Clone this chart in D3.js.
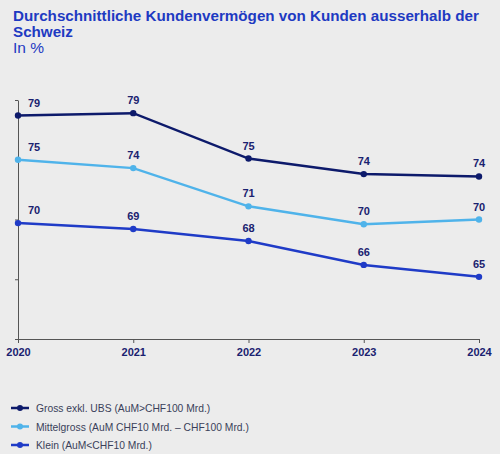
<!DOCTYPE html>
<html>
<head>
<meta charset="utf-8">
<script src="https://cdn.jsdelivr.net/npm/d3@7"></script>
<style>
  html, body { margin: 0; padding: 0; background: #ececec; }
  svg { display: block; font-family: Arial, "Liberation Sans", Helvetica, sans-serif; }
</style>
</head>
<body>
<svg id="chart" width="500" height="454"></svg>
<script>
const years = ["2020", "2021", "2022", "2023", "2024"];
const grossValues = [78.7, 78.9, 75.1, 73.8, 73.6];
const mittelValues = [75.0, 74.3, 71.1, 69.6, 70.0];
const kleinValues = [69.7, 69.2, 68.2, 66.2, 65.2];
const seriesNames = ["Gross exkl. UBS (AuM>CHF100 Mrd.)", "Mittelgross (AuM CHF10 Mrd. \u2013 CHF100 Mrd.)", "Klein (AuM<CHF10 Mrd.)"];
const seriesColors = ["#0d1a6b", "#4fb3ea", "#1f3bc7"];
const yTicks = [60, 65, 70, 75, 80];
const titleLines = ["Durchschnittliche Kundenvermögen von Kunden ausserhalb der", "Schweiz"];
const subtitle = "In %";

const series = [grossValues, mittelValues, kleinValues].map((vals, i) => ({
  name: seriesNames[i], color: seriesColors[i], values: vals
}));

const svg = d3.select("#chart");
const x = d3.scalePoint().domain(years).range([18, 479]);
const y = d3.scaleLinear().domain([60, 80]).range([339, 100]);

// Title
const title = svg.append("text").attr("fill", "#1e3ac2").attr("font-size", 15.2).attr("font-weight", "bold");
titleLines.forEach((t, i) => {
  title.append("tspan").attr("x", 13).attr("y", 21 + i * 16).text(t);
});
svg.append("text").attr("x", 13).attr("y", 53).attr("fill", "#1e3ac2").attr("font-size", 15.5).text(subtitle);

// Axes
const axisColor = "#555";
const xAxis = svg.append("g").attr("transform", "translate(0,339)")
  .call(d3.axisBottom(x).tickSize(4).tickSizeOuter(0));
xAxis.select(".domain").attr("stroke", axisColor);
xAxis.selectAll(".tick line").attr("stroke", axisColor);
xAxis.selectAll(".tick text").attr("fill", "#1a2270").attr("font-size", 11).attr("font-weight", "bold")
  .attr("font-family", "Arial, 'Liberation Sans', sans-serif").attr("dy", "0.9em");

const yAxis = svg.append("g").attr("transform", "translate(18,0)")
  .call(d3.axisLeft(y).tickValues(yTicks).tickSize(3).tickSizeOuter(0).tickFormat(""));
yAxis.select(".domain").attr("stroke", axisColor);
yAxis.selectAll(".tick line").attr("stroke", axisColor);

// Lines
const line = d3.line().x((d, i) => x(years[i])).y(d => y(d));
series.forEach(s => {
  const g = svg.append("g");
  g.append("path").attr("d", line(s.values)).attr("fill", "none")
    .attr("stroke", s.color).attr("stroke-width", 2.5);
  g.selectAll("circle").data(s.values).join("circle")
    .attr("cx", (d, i) => x(years[i])).attr("cy", d => y(d)).attr("r", 3.2)
    .attr("fill", s.color);
  g.selectAll("text").data(s.values).join("text")
    .attr("x", (d, i) => x(years[i]) + (i === 0 ? 16 : 0))
    .attr("y", d => y(d) - 9)
    .attr("text-anchor", "middle")
    .attr("fill", "#1a2270").attr("font-size", 11).attr("font-weight", "bold")
    .text(d => Math.round(d));
});

// Legend
const legend = svg.append("g");
series.forEach((s, i) => {
  const yy = 408 + i * 18.5;
  legend.append("line").attr("x1", 11).attr("x2", 29).attr("y1", yy).attr("y2", yy)
    .attr("stroke", s.color).attr("stroke-width", 2.5);
  legend.append("circle").attr("cx", 20).attr("cy", yy).attr("r", 3).attr("fill", s.color);
  legend.append("text").attr("x", 36).attr("y", yy + 4).attr("font-size", 10.3)
    .attr("fill", "#3a3f5a").text(s.name);
});
</script>
</body>
</html>
